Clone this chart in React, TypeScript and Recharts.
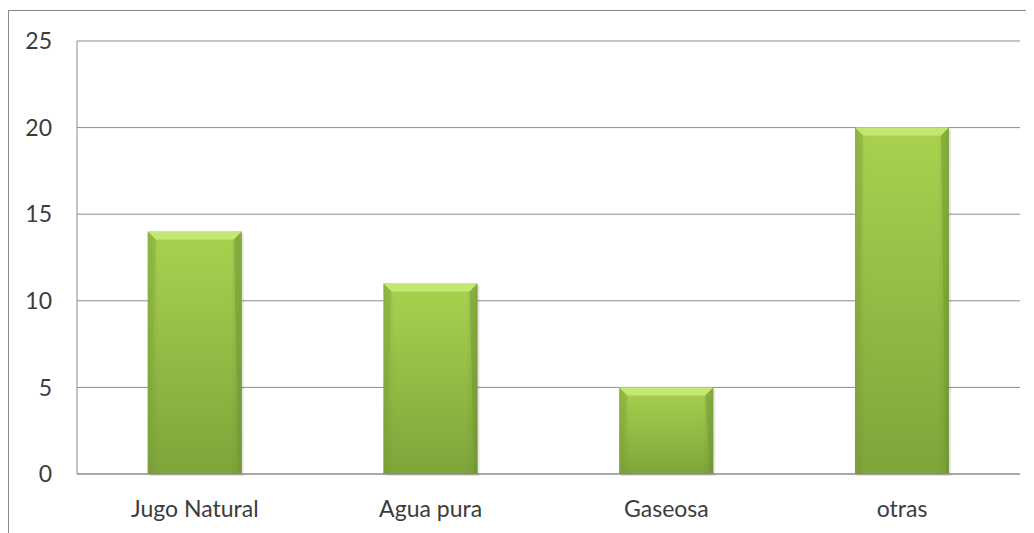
import { BarChart, Bar, XAxis, YAxis, CartesianGrid } from 'recharts'

const categories = ['Jugo Natural', 'Agua pura', 'Gaseosa', 'otras']
const values = [14, 11, 5, 20]
const yTicks = [0, 5, 10, 15, 20, 25]

const data = categories.map((name, i) => ({ name, value: values[i] }))

const font = 'Lato, "Open Sans", sans-serif'

function BevelBar(props: any) {
  const { x, y, width, height } = props
  if (!height || height <= 0) return null
  const b = 8
  return (
    <g>
      <rect x={x + 2} y={y + 2} width={width} height={height} fill="#000" opacity={0.1} />
      <rect x={x} y={y} width={width} height={height} fill="url(#barFill)" />
      <rect x={x} y={y} width={width} height={height} fill="url(#barSides)" />
      <polygon
        points={`${x},${y} ${x + width},${y} ${x + width - b},${y + b} ${x + b},${y + b}`}
        fill="#c3e872"
      />
      <polygon
        points={`${x + width},${y} ${x + width},${y + height} ${x + width - 3},${y + height} ${x + width - b},${y + b}`}
        fill="#6f9232"
        opacity={0.45}
      />
      <polygon
        points={`${x},${y} ${x + b},${y + b} ${x + 3},${y + height} ${x},${y + height}`}
        fill="#7fa53c"
        opacity={0.4}
      />
    </g>
  )
}

export default function App() {
  return (
    <div style={{ paddingTop: 2 }}>
      <div
        style={{
          width: 1026,
          height: 523,
          borderLeft: '1px solid #8a8a8a',
          borderTop: '1px solid #8a8a8a',
          background: '#fff',
        }}
      >
        <BarChart
          width={1025}
          height={522}
          data={data}
          margin={{ top: 30, right: 14, left: 18, bottom: 19 }}
          barCategoryGap="30%"
        >
          <defs>
            <linearGradient id="barFill" x1="0" y1="0" x2="0" y2="1">
              <stop offset="0%" stopColor="#a9d24f" />
              <stop offset="100%" stopColor="#7fa43b" />
            </linearGradient>
            <linearGradient id="barSides" x1="0" y1="0" x2="1" y2="0">
              <stop offset="0%" stopColor="#5f8228" stopOpacity={0.25} />
              <stop offset="12%" stopColor="#5f8228" stopOpacity={0} />
              <stop offset="88%" stopColor="#5f8228" stopOpacity={0} />
              <stop offset="100%" stopColor="#5f8228" stopOpacity={0.3} />
            </linearGradient>
          </defs>
          <CartesianGrid vertical={false} stroke="#8c8c8c" strokeWidth={1} />
          <XAxis
            dataKey="name"
            axisLine={{ stroke: '#8c8c8c' }}
            tickLine={false}
            tickSize={0}
            tickMargin={27}
            height={40}
            tick={{ fontSize: 23, fontFamily: font, fill: '#3c3c3c' }}
          />
          <YAxis
            domain={[0, 25]}
            ticks={yTicks}
            interval={0}
            width={50}
            axisLine={{ stroke: '#8c8c8c' }}
            tickLine={false}
            tickSize={0}
            tickMargin={25}
            tick={{ fontSize: 23, fontFamily: font, fill: '#3c3c3c' }}
          />
          <Bar dataKey="value" shape={BevelBar} isAnimationActive={false} />
        </BarChart>
      </div>
    </div>
  )
}
